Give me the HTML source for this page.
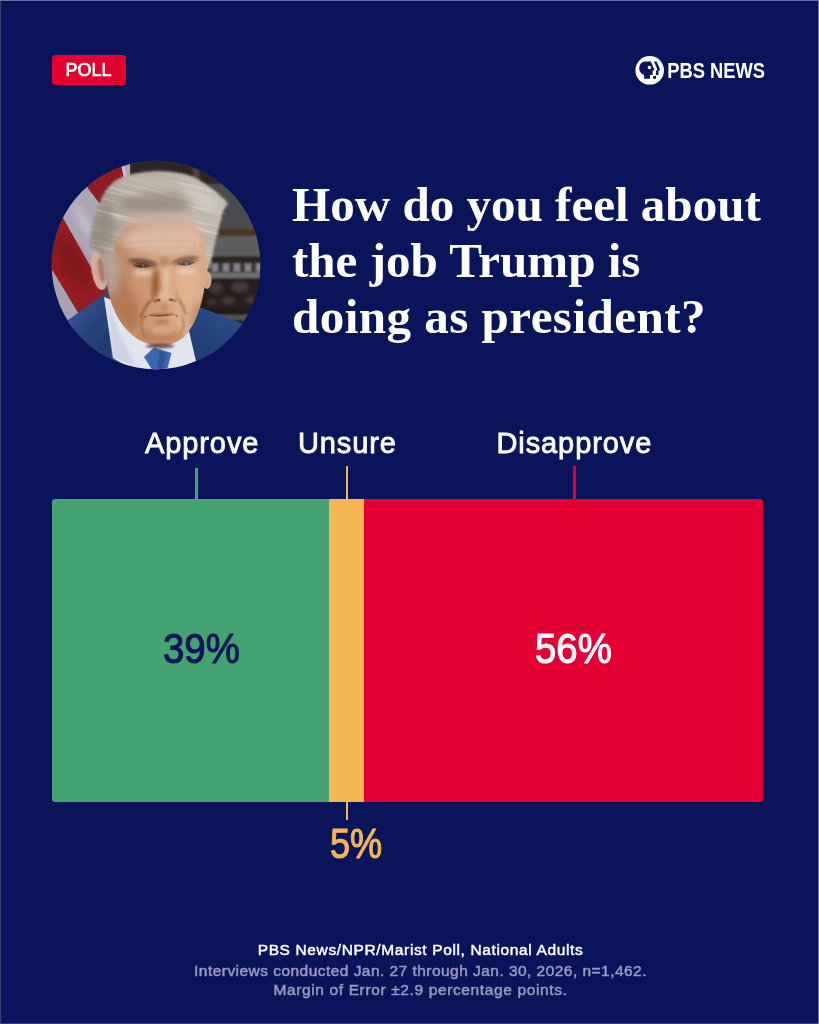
<!DOCTYPE html>
<html lang="en">
<head>
<meta charset="utf-8">
<title>PBS News Poll</title>
<style>
html,body{margin:0;padding:0;}
body{width:819px;height:1024px;background:#0a145b;overflow:hidden;position:relative;font-family:"Liberation Sans",sans-serif;}
.abs{position:absolute;white-space:nowrap;}
#edge-t{left:0;top:0;width:819px;height:1px;background:#6b6f9f;}
#edge-r{right:0;top:0;width:1px;height:1024px;background:#6b6f9f;}
#edge-l{left:0;top:1px;width:1px;height:1023px;background:#3a3f78;}
#edge-b{left:0;bottom:0;width:818px;height:1px;background:#3a3f78;}
#poll{left:52px;top:55px;width:74px;height:30px;background:#e4002f;border-radius:3.5px;color:#fff;font-weight:normal;font-size:18.4px;line-height:30px;text-align:center;-webkit-text-stroke:0.7px #fff;}
#poll span{display:inline-block;transform:scaleX(0.975);position:relative;top:0.4px}
#logo{left:630px;top:50px;}
#title{left:292px;top:177.2px;color:#fff;font-family:"Liberation Serif",serif;font-weight:bold;font-size:48px;line-height:56px;transform-origin:0 0;transform:scaleX(1.022);}
.lab{color:#fff;font-size:29px;line-height:32px;font-weight:normal;-webkit-text-stroke:0.8px #fff;letter-spacing:0.9px;transform-origin:0 0;}
#bar{left:52px;top:498.5px;width:710.8px;height:303.4px;}
#bar-g{left:0;top:0;width:277.4px;height:303.4px;background:#44a471;border-radius:3px 0 0 3px;}
#bar-o{left:277.3px;top:0;width:35.1px;height:303.4px;background:#f6b553;}
#bar-r{left:312.3px;top:0;width:398.5px;height:303.4px;background:#e40032;border-radius:0 3px 3px 0;}
.tick{width:2.6px;}
.num{font-size:41.8px;line-height:44px;font-weight:normal;-webkit-text-stroke:1.1px currentColor;transform-origin:0 0;transform:scaleX(0.918);}
.foot{left:20.5px;width:800px;text-align:center;font-size:15.5px;line-height:20px;}
</style>
</head>
<body>
<div class="abs" id="poll"><span>POLL</span></div>

<svg class="abs" id="logo" width="150" height="40" viewBox="630 50 150 40">
  <circle cx="649.7" cy="70.3" r="14.3" fill="#fff"/>
  <path d="M644.1,78.8 L650,78.8 L650,74.9 L652.5,74.9 L652.7,70.9 L654.4,69.7 L650.9,61.5 L645.5,61.5 C641.5,61.5 639.2,64.8 639.2,68.5 C639.2,71.8 641.2,74 644.1,74.9 Z" fill="#0a145b"/>
  <circle cx="649.4" cy="67.6" r="1.75" fill="#fff"/>
  <path d="M654,61.5 L656.6,61.5 L660.2,69.8 L658.4,71 L658.4,75 L656,75 L656,78.8 L653.1,78.8 L653.1,76 L655.9,76 L655.9,71 L657.5,69.8 Z" fill="#0a145b"/>
  <text x="667.2" y="78.2" fill="#fff" font-family="Liberation Sans, sans-serif" font-weight="bold" font-size="22.3" textLength="97.8" lengthAdjust="spacingAndGlyphs">PBS NEWS</text>
</svg>

<svg class="abs" id="photo" style="left:40px;top:150px" width="232" height="232" viewBox="40 150 232 232">
  <defs>
    <clipPath id="pc"><circle cx="156" cy="265" r="104.3"/></clipPath>
    <path id="facep" d="M104,236 C104,262 106,285 110.500,300 C115,315 123,328 134,336.500 C143,343 152,345.500 160,345.500 C168,345.500 176,343.500 184,337 C192,329 198.500,314 202,300 C205.500,285 209,262 211,240 C212,222 205,208 190,205 L125,205 C110,210 104,222 104,236 Z"/>
    <path id="hairp" d="M90,247 C90,238 91.500,228 94,220 C96,212 98,206 101,200 C104,193 108,187 113,182.500 C118,179 124,176.500 130,174.500 C137,173 143,172 148,172 C160,171 172,172 182,173.500 C189,175 194,177 199,180 C206,184 211,188 216,192 C220,196 225,200 228,203.500 C225,207 223,210 222,214.500 C221,219 220,223 219,226.500 C218,231 217,235 215.500,238.500 C214,246 212,256 210.500,264 L209,271 C206.500,262 206.500,250 205,240 C202,229 194,223 180,221.500 C170,220.500 160,221 150,221 C140,221.500 129,224 122,230 C116,236 114,246 111.500,256 C109.500,264 108.500,276 108,286 C106.500,278 105.500,268 104,262 C102,254 96,250 90,247 Z"/>
    <clipPath id="facec"><use href="#facep"/></clipPath>
    <mask id="hairm" maskUnits="userSpaceOnUse" x="40" y="150" width="232" height="232"><use href="#hairp" fill="#fff" filter="url(#b2)"/></mask>
    <filter id="b05" x="-20%" y="-20%" width="140%" height="140%"><feGaussianBlur stdDeviation="0.6"/></filter>
    <filter id="b1" x="-20%" y="-20%" width="140%" height="140%"><feGaussianBlur stdDeviation="1.2"/></filter>
    <filter id="b2" x="-30%" y="-30%" width="160%" height="160%"><feGaussianBlur stdDeviation="2.2"/></filter>
    <filter id="b3" x="-40%" y="-40%" width="180%" height="180%"><feGaussianBlur stdDeviation="3"/></filter>
    <filter id="b4" x="-40%" y="-40%" width="180%" height="180%"><feGaussianBlur stdDeviation="4"/></filter>
    <filter id="b7" x="-50%" y="-50%" width="200%" height="200%"><feGaussianBlur stdDeviation="7"/></filter>
    <filter id="strands" x="0" y="0" width="100%" height="100%">
      <feTurbulence type="fractalNoise" baseFrequency="0.012 0.35" numOctaves="3" seed="7" result="n"/>
      <feColorMatrix in="n" type="matrix" values="0 0 0 0 0.45  0 0 0 0 0.42  0 0 0 0 0.38  3 0 0 0 -1.35"/>
    </filter>
    <filter id="strandsL" x="0" y="0" width="100%" height="100%">
      <feTurbulence type="fractalNoise" baseFrequency="0.012 0.35" numOctaves="3" seed="19" result="n"/>
      <feColorMatrix in="n" type="matrix" values="0 0 0 0 0.93  0 0 0 0 0.91  0 0 0 0 0.88  3 0 0 0 -1.55"/>
    </filter>
    <filter id="grain" x="0" y="0" width="100%" height="100%">
      <feTurbulence type="fractalNoise" baseFrequency="0.55" numOctaves="2" seed="3" result="n"/>
      <feColorMatrix in="n" type="matrix" values="0 0 0 0 0.45  0 0 0 0 0.25  0 0 0 0 0.15  1.6 0 0 0 -0.6"/>
    </filter>
    <linearGradient id="hairg" x1="0" y1="0" x2="1" y2="0">
      <stop offset="0" stop-color="#9d9388"/><stop offset="0.3" stop-color="#b4ab9f"/><stop offset="0.7" stop-color="#c1b9ae"/><stop offset="1" stop-color="#c4bcb1"/>
    </linearGradient>
    <linearGradient id="suitl" x1="0" y1="0" x2="1" y2="1">
      <stop offset="0" stop-color="#4161a0"/><stop offset="0.45" stop-color="#27437d"/><stop offset="1" stop-color="#1b3265"/>
    </linearGradient>
    <linearGradient id="suitr" x1="1" y1="0" x2="0" y2="1">
      <stop offset="0" stop-color="#3d5b95"/><stop offset="0.45" stop-color="#284682"/><stop offset="1" stop-color="#1e376c"/>
    </linearGradient>
    <linearGradient id="faceg" x1="0" y1="0" x2="1" y2="0">
      <stop offset="0" stop-color="#b5805f"/><stop offset="0.4" stop-color="#cf9975"/><stop offset="0.75" stop-color="#e0b292"/><stop offset="1" stop-color="#d8aa8d"/>
    </linearGradient>
  </defs>
  <g clip-path="url(#pc)">
    <!-- background -->
    <rect x="40" y="150" width="232" height="232" fill="#474547"/>
    <g filter="url(#b1)">
      <rect x="110" y="155" width="160" height="30" fill="#2d2825"/>
      <rect x="120" y="160" width="10" height="22" fill="#5c4632"/>
      <rect x="193" y="165" width="6" height="22" fill="#5a4030"/>
      <rect x="200" y="184" width="70" height="46" fill="#4c4b4f"/>
      <rect x="200" y="229" width="70" height="7" fill="#4a3424"/>
      <rect x="200" y="236" width="70" height="20" fill="#5e5d61"/>
      <rect x="200" y="256" width="70" height="7" fill="#2a2523"/>
      <rect x="200" y="263" width="70" height="9" fill="#3a3838"/>
      <g fill="#85858a">
        <rect x="212" y="263.500" width="6" height="8"/><rect x="223" y="263.500" width="6" height="8"/><rect x="234" y="263.500" width="6" height="8"/><rect x="245" y="263.500" width="6" height="8"/><rect x="256" y="263.500" width="6" height="8"/>
      </g>
      <rect x="200" y="272.500" width="70" height="5.500" fill="#706f73"/>
      <rect x="195" y="278" width="75" height="32" fill="#2b1f1b"/>
      <rect x="195" y="309" width="75" height="6" fill="#1f1a18"/>
      <rect x="195" y="315" width="75" height="5" fill="#555457"/>
      <rect x="195" y="320" width="75" height="20" fill="#221d1b"/>
    </g>
    <g filter="url(#b2)" fill="#5a5658" opacity="0.55">
      <ellipse cx="216" cy="288" rx="7" ry="6"/><ellipse cx="240" cy="287" rx="9" ry="6"/><ellipse cx="228" cy="301" rx="7" ry="4"/><ellipse cx="250" cy="300" rx="5" ry="4"/><ellipse cx="212" cy="302" rx="5" ry="3"/>
    </g>
    <!-- flag -->
    <g filter="url(#b05)">
      <polygon points="40,150 130,150 130,230 40,330" fill="#aca5b6"/>
      <polygon points="76,186 119,158 124,176 100,204 87,187" fill="#8f1d24"/>
      <polygon points="120.500,160 123.500,160 126.500,176 124,178" fill="#c9c3d0"/>
      <polygon points="40,180 63.600,218.900 110,301 80,316 40,250" fill="#941c23"/>
      <polygon points="40,250 52.200,270.700 82,319 60,340 40,300" fill="#a8a1b0"/>
    </g>
    <ellipse cx="72" cy="262" rx="10" ry="30" transform="rotate(-30 72 262)" fill="#6e1218" opacity="0.5" filter="url(#b4)"/>
    <ellipse cx="84" cy="222" rx="5" ry="22" transform="rotate(-30 84 222)" fill="#cdc7d4" opacity="0.6" filter="url(#b3)"/>
    <!-- suit -->
    <path d="M60,330 L68,320 L92,303 L106,293 L118,330 L130,372 L60,372 Z" fill="url(#suitl)" filter="url(#b05)"/>
    <path d="M197,306 L215,313 L243,324 L262,336 L262,372 L185,372 L188,335 Z" fill="url(#suitr)" filter="url(#b05)"/>
    <!-- shirt -->
    <path d="M104,297 L112,300 L130,330 L155,346 L172,343 L189,331 L196,361 L170,372 L135,372 L113,358 Z" fill="#e1e4ee" filter="url(#b05)"/>
    <path d="M108,300 L118,330 L136,366 L113,358 Z" fill="#c6ccdd" filter="url(#b1)" opacity="0.7"/>
    <!-- tie -->
    <path d="M154,347.500 L171.500,353 L166.500,372 L153.500,372 L144,357 Z" fill="#3b67b0" filter="url(#b05)"/>
    <path d="M160,350 L166,354 L162,372 L157,372 Z" fill="#2a4c8c" filter="url(#b1)" opacity="0.7"/>
    <!-- ears -->
    <ellipse cx="99.500" cy="270" rx="8" ry="20" transform="rotate(-8 99.500 270)" fill="#d4ad9d" filter="url(#b05)"/>
    <ellipse cx="101.500" cy="270" rx="3.500" ry="13" transform="rotate(-8 101.500 270)" fill="#b07d6a" filter="url(#b1)"/>
    <ellipse cx="207" cy="280" rx="4.500" ry="9" fill="#d6a488" filter="url(#b05)"/>
    <!-- face -->
    <use href="#facep" fill="url(#faceg)" filter="url(#b05)"/>
    <g clip-path="url(#facec)">
    <!-- face shading: broad -->
    <g filter="url(#b4)">
      <ellipse cx="162" cy="240" rx="40" ry="14" fill="#dfbca8"/>
      <ellipse cx="124" cy="302" rx="12" ry="30" transform="rotate(-20 124 302)" fill="#b37650" opacity="0.9"/>
      <ellipse cx="113" cy="272" rx="6" ry="24" fill="#b2a39b" opacity="0.95"/>
      <ellipse cx="188" cy="288" rx="10" ry="17" fill="#e4b492"/>
      <ellipse cx="160" cy="337" rx="24" ry="7" fill="#ba805a"/>
      <ellipse cx="198" cy="314" rx="5" ry="14" transform="rotate(18 198 314)" fill="#b57e5b" opacity="0.85"/>
      <ellipse cx="138" cy="286" rx="9" ry="10" fill="#cf9872" opacity="0.9"/>
    </g>
    <!-- mid details -->
    <g filter="url(#b2)">
      <ellipse cx="155.500" cy="284" rx="4" ry="15" fill="#9a5a34" opacity="0.95"/>
      <ellipse cx="166.500" cy="278" rx="3.500" ry="13" fill="#ebc3a6"/>
      <ellipse cx="165" cy="295.500" rx="7" ry="4.500" fill="#e8ba97"/>
      <ellipse cx="143" cy="262.500" rx="15" ry="4.200" transform="rotate(9 143 262.500)" fill="#6f4733" opacity="0.95"/>
      <ellipse cx="185" cy="260" rx="14" ry="4.200" transform="rotate(-9 185 260)" fill="#7f5843" opacity="0.9"/>
      <ellipse cx="143" cy="273" rx="10" ry="3.200" fill="#e6c5b4"/>
      <ellipse cx="186" cy="271" rx="10" ry="3.200" fill="#eccdbb"/>
      <ellipse cx="162" cy="322" rx="8" ry="2" fill="#a06845" opacity="0.9"/>
      <ellipse cx="162" cy="330" rx="11" ry="4.500" fill="#d9a581"/>
      <ellipse cx="164.500" cy="262" rx="5" ry="5" fill="#b98262" opacity="0.9"/>
      <ellipse cx="163" cy="308" rx="9" ry="3" fill="#c98d68" opacity="0.8"/>
    </g>
    <g filter="url(#b1)" fill="none" stroke-linecap="round">
      <path d="M150,301 Q144,308 141,317" stroke="#8f5534" stroke-width="2.400" opacity="0.9"/>
      <path d="M179,300 Q183.500,306 185.500,314" stroke="#a56b47" stroke-width="2.200" opacity="0.85"/>
      <path d="M130,256.500 Q145,255 158,260.500" stroke="#cdb09a" stroke-width="2" opacity="0.85"/>
      <path d="M172,259 Q186,252.500 199,254" stroke="#d6b9a2" stroke-width="2" opacity="0.85"/>
      <path d="M153,292 Q151.500,297 154,301" stroke="#9c5d39" stroke-width="1.800" opacity="0.8"/>
      <path d="M176.500,291.500 Q178,296.500 176,300.500" stroke="#b37652" stroke-width="1.600" opacity="0.7"/>
      <path d="M164.500,304 L164.500,311" stroke="#b57a56" stroke-width="1.800" opacity="0.6"/>
      <path d="M143,318 Q139,327 145,336" stroke="#a06844" stroke-width="2.200" opacity="0.7"/>
      <path d="M182,317 Q186,326 180,335" stroke="#ad7550" stroke-width="2.200" opacity="0.7"/>
      <path d="M128,243 Q160,239 196,242" stroke="#c59d86" stroke-width="1.200" opacity="0.6"/>
      <path d="M130,249 Q160,245.500 194,248" stroke="#c59d86" stroke-width="1.200" opacity="0.5"/>
    </g>
    <g filter="url(#b05)">
      <ellipse cx="158.200" cy="300.300" rx="2.600" ry="1.300" fill="#6e3d28" opacity="0.9"/>
      <ellipse cx="171.200" cy="299.800" rx="2.600" ry="1.300" fill="#7a4730" opacity="0.9"/>
      <path d="M153.500,299 Q153,302.500 157,302.500" stroke="#9a5c3a" stroke-width="1.200" fill="none"/>
      <path d="M176,298.500 Q176.500,302 172.500,302" stroke="#a96b48" stroke-width="1.200" fill="none"/>
      <path d="M134,266.500 Q141,263 149.500,266.800 Q141,269 134,266.500 Z" fill="#38353a"/>
      <path d="M133,265.500 Q141,261.500 150.500,266.200" stroke="#5a3a2c" stroke-width="1.100" fill="none"/>
      <path d="M179,264.600 Q186,261 193.500,263.400 Q186,267 179,264.600 Z" fill="#474c52"/>
      <path d="M178,264 Q186,259.800 194.500,262.600" stroke="#6a4636" stroke-width="1.100" fill="none"/>
      <ellipse cx="143.500" cy="265.900" rx="0.900" ry="0.700" fill="#a5a9ae"/>
      <ellipse cx="186.500" cy="263.700" rx="1.500" ry="1" fill="#7e8890"/>
      <path d="M146.500,315.600 Q161,313.600 175.500,314.800 Q161,318 146.500,315.600 Z" fill="#86493a"/>
      <path d="M149,314.300 Q161,311.800 174,313.600" stroke="#b8735e" stroke-width="1.300" fill="none" opacity="0.8"/>
      <path d="M146.500,315.600 L144.500,317.500" stroke="#7f4a36" stroke-width="1.200"/>
      <path d="M175.500,314.800 L177.500,316.600" stroke="#8a543e" stroke-width="1.200"/>
    </g>
    <rect x="100" y="200" width="115" height="150" filter="url(#grain)" opacity="0.22"/>
    </g>
    <!-- neck shadow under chin -->
    <ellipse cx="160" cy="346" rx="14" ry="2.500" fill="#5a3a2c" filter="url(#b1)" opacity="0.8"/>
    <!-- hair -->
    <use href="#hairp" fill="url(#hairg)" filter="url(#b1)"/>
    <g mask="url(#hairm)" opacity="0.6">
      <g transform="rotate(14 156 200)">
        <rect x="70" y="150" width="190" height="110" filter="url(#strands)"/>
        <rect x="70" y="150" width="190" height="110" filter="url(#strandsL)"/>
      </g>
    </g>
    <g mask="url(#hairm)" opacity="0.85">
    <g filter="url(#b4)">
      <ellipse cx="156" cy="204" rx="36" ry="11" fill="#9a8a80" opacity="1"/>
      <ellipse cx="203" cy="199" rx="20" ry="7" transform="rotate(30 203 199)" fill="#d8d2c8" opacity="0.9"/>
      <ellipse cx="102" cy="228" rx="9" ry="24" transform="rotate(12 102 228)" fill="#8f857a" opacity="0.9"/>
      <ellipse cx="112" cy="238" rx="5" ry="14" transform="rotate(15 112 238)" fill="#9a8f86" opacity="0.8"/>
      <ellipse cx="142" cy="184" rx="30" ry="6" fill="#c4bcb1" opacity="0.8"/>
      <ellipse cx="212" cy="240" rx="4" ry="20" transform="rotate(12 212 240)" fill="#bbb2a6" opacity="0.8"/>
    </g>
    </g>
    <g filter="url(#b3)">
      <ellipse cx="162" cy="221" rx="38" ry="8" fill="#cbb0a0" opacity="0.8"/>
      <ellipse cx="112" cy="268" rx="3.500" ry="20" fill="#b9a89f" opacity="0.7"/>
      <ellipse cx="121" cy="236" rx="5" ry="9" transform="rotate(25 121 236)" fill="#c4ad9f" opacity="0.7"/>
    </g>
  </g>
</svg>

<div class="abs" id="title">How do you feel about<br>the job Trump is<br><span style="letter-spacing:0.45px">doing as president?</span></div>

<div class="abs lab" id="lab-a" style="left:145px;top:427px">Approve</div>
<div class="abs lab" id="lab-u" style="left:298px;top:427px">Unsure</div>
<div class="abs lab" id="lab-d" style="left:496.5px;top:427px">Disapprove</div>

<div class="abs tick" id="tk-a" style="left:195.35px;top:467.5px;height:32px;background:#44a471"></div>
<div class="abs tick" id="tk-u" style="left:345.7px;top:466.3px;height:33px;background:#f6b553"></div>
<div class="abs tick" id="tk-d" style="left:573.05px;top:466.3px;height:33px;background:#e40032"></div>
<div class="abs tick" id="tk-5" style="left:345.7px;top:801px;height:19px;background:#f6b553"></div>

<div class="abs" id="bar"><div class="abs" id="bar-r"></div><div class="abs" id="bar-g"></div><div class="abs" id="bar-o"></div></div>

<div class="abs num" id="n39" style="left:163px;top:626.5px;color:#0a145b">39%</div>
<div class="abs num" id="n56" style="left:535px;top:626.5px;color:#fff">56%</div>
<div class="abs num" id="n5" style="left:329.5px;top:822px;color:#f6b553;transform:scaleX(0.865)">5%</div>

<div class="abs foot" id="f1" style="top:940px;color:#fff;letter-spacing:0.63px;-webkit-text-stroke:0.45px #fff">PBS News/NPR/Marist Poll, National Adults</div>
<div class="abs foot" id="f2" style="top:961.3px;color:#979abf;letter-spacing:0.46px;-webkit-text-stroke:0.5px #979abf">Interviews conducted Jan. 27 through Jan. 30, 2026, n=1,462.</div>
<div class="abs foot" id="f3" style="top:980.2px;color:#979abf;letter-spacing:0.63px;-webkit-text-stroke:0.5px #979abf">Margin of Error ±2.9 percentage points.</div>

<div class="abs" id="edge-t"></div><div class="abs" id="edge-r"></div><div class="abs" id="edge-l"></div><div class="abs" id="edge-b"></div>
</body>
</html>
